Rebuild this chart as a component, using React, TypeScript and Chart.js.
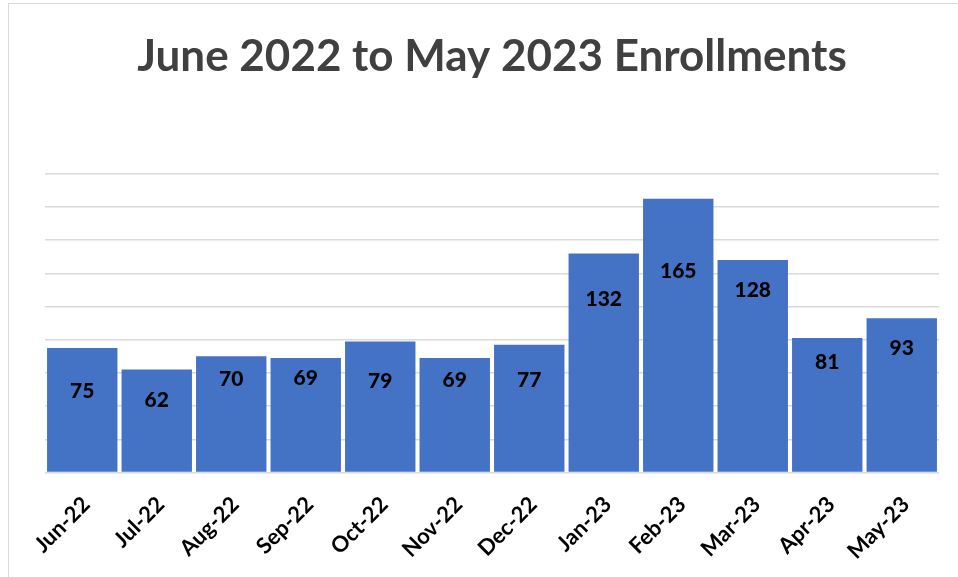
import React, { useEffect, useRef } from "react";
import { Chart, registerables } from "chart.js";

Chart.register(...registerables);

const titleText = "June 2022 to May 2023 Enrollments";
const categories = [
  "Jun-22", "Jul-22", "Aug-22", "Sep-22", "Oct-22", "Nov-22",
  "Dec-22", "Jan-23", "Feb-23", "Mar-23", "Apr-23", "May-23",
];
const enrollments = [75, 62, 70, 69, 79, 69, 77, 132, 165, 128, 81, 93];
// height (in data units) at which each value label sits inside its bar
const labelLevels = [48.7, 43.7, 56.4, 57, 54.8, 55.4, 55.8, 104.6, 121.1, 109.6, 66.5, 74.9];
const yMin = 0;
const yMax = 180;
const yStep = 20;

const FONT = "Lato, 'Open Sans', sans-serif";

const valueLabelPlugin = {
  id: "valueLabels",
  afterDatasetsDraw(chart: any) {
    const ctx = chart.ctx;
    const meta = chart.getDatasetMeta(0);
    const yScale = chart.scales.y;
    ctx.save();
    ctx.font = `900 21px ${FONT}`;
    ctx.fillStyle = "#000000";
    ctx.textAlign = "center";
    ctx.textBaseline = "middle";
    meta.data.forEach((bar: any, i: number) => {
      const y = yScale.getPixelForValue(labelLevels[i]);
      ctx.fillText(String(enrollments[i]), bar.x, y);
    });
    ctx.restore();
  },
};

export default function App() {
  const canvasRef = useRef<HTMLCanvasElement | null>(null);

  useEffect(() => {
    if (!canvasRef.current) return;
    const chart = new Chart(canvasRef.current, {
      type: "bar",
      data: {
        labels: categories,
        datasets: [
          {
            label: "Enrollments",
            data: enrollments,
            backgroundColor: "#4472C4",
            borderWidth: 0,
            categoryPercentage: 1,
            barPercentage: 0.945,
          },
        ],
      },
      options: {
        animation: false,
        responsive: true,
        maintainAspectRatio: false,
        layout: { padding: { left: 45, right: 19, top: 0, bottom: 0 } },
        plugins: {
          legend: { display: false },
          tooltip: { enabled: false },
          title: {
            display: true,
            text: titleText,
            color: "#404040",
            font: { family: FONT, size: 44, weight: "bold", lineHeight: 1.2 },
            padding: { top: 30, bottom: 91 },
          },
        },
        scales: {
          x: {
            grid: { display: false },
            border: { display: false },
            ticks: {
              color: "#000000",
              font: { family: FONT, size: 22, weight: "bold" },
              minRotation: 45,
              maxRotation: 45,
              padding: 11,
              labelOffset: 4,
              autoSkip: false,
            },
            afterFit: (axis: any) => {
              axis.height = 104.5;
            },
          },
          y: {
            min: yMin,
            max: yMax,
            ticks: { display: false, stepSize: yStep },
            border: { display: false },
            grid: { color: "#D9D9D9", lineWidth: 1.5, drawTicks: false },
          },
        },
      },
      plugins: [valueLabelPlugin],
    });
    return () => chart.destroy();
  }, []);

  return (
    <div
      style={{
        position: "fixed",
        left: 0,
        top: 0,
        width: 958,
        height: 577,
        overflow: "hidden",
        background: "#ffffff",
      }}
    >
      <div
        style={{
          position: "absolute",
          left: 8,
          top: 3,
          width: 1000,
          height: 700,
          border: "1.5px solid #D9D9D9",
          boxSizing: "border-box",
        }}
      />
      <div style={{ position: "absolute", left: 0, top: 0, width: 958, height: 577 }}>
        <canvas ref={canvasRef} />
      </div>
    </div>
  );
}
